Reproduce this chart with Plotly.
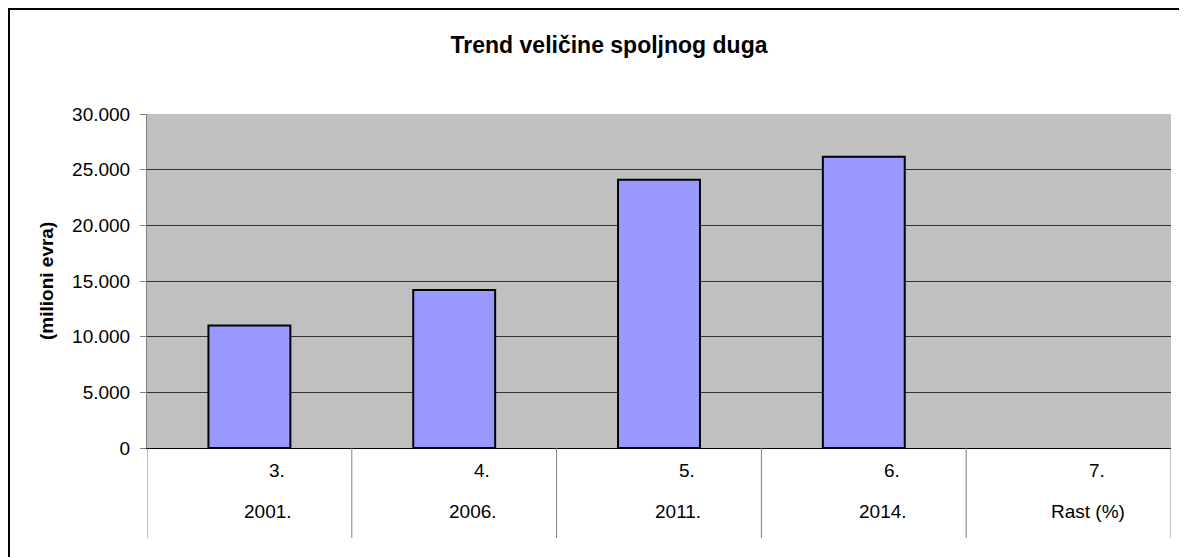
"""External debt trend bar chart (Excel-style)."""

import plotly.graph_objects as go

# data
col_numbers = ["3.", "4.", "5.", "6.", "7."]
col_labels = ["2001.", "2006.", "2011.", "2014.", "Rast (%)"]
debt_values = [11000, 14200, 24100, 26150, None]

# page is drawn with an 8px body margin, so the figure is 8px smaller
W, H = 1179, 549
PLOT_L, PLOT_R, PLOT_T, PLOT_B = 147, 1171, 114, 448  # window pixels
OFF = 8


def px(xw):
    return (xw - PLOT_L) / (PLOT_R - PLOT_L)


def py(yw):
    return (PLOT_B - yw) / (PLOT_B - PLOT_T)


FONT = "Liberation Sans, Arial, sans-serif"

fig = go.Figure()
fig.add_trace(go.Bar(
    x=list(range(len(col_labels))),
    y=debt_values,
    marker=dict(color="#9999FF", line=dict(color="#000000", width=2)),
    hoverinfo="y",
))

shapes = []
# category separators under the axis
for i in range(len(col_labels) + 1):
    shapes.append(dict(type="line", xref="x", yref="paper",
                       x0=i - 0.5, x1=i - 0.5, y0=0, y1=py(538),
                       line=dict(color="#808080", width=1)))
# chart frame: only left and top edges visible
shapes.append(dict(type="line", xref="paper", yref="paper",
                   x0=px(OFF + 1), x1=px(OFF + 1), y0=py(OFF), y1=py(OFF + H),
                   line=dict(color="#000000", width=2)))
shapes.append(dict(type="line", xref="paper", yref="paper",
                   x0=px(OFF), x1=px(OFF + W), y0=py(OFF + 1), y1=py(OFF + 1),
                   line=dict(color="#000000", width=2)))

annotations = []
for i, (num, lab) in enumerate(zip(col_numbers, col_labels)):
    annotations.append(dict(x=i, y=py(483), xref="x", yref="paper", text=num,
                            showarrow=False, xshift=28, font=dict(size=19)))
    annotations.append(dict(x=i, y=py(524), xref="x", yref="paper", text=lab,
                            showarrow=False, xshift=19, font=dict(size=19)))
annotations.append(dict(x=px(46), y=0.5, xref="paper", yref="paper",
                        xanchor="center", yanchor="middle",
                        text="<b>(milioni evra)</b>", textangle=-90,
                        showarrow=False, font=dict(size=19)))

fig.update_layout(
    width=W, height=H,
    margin=dict(l=PLOT_L - OFF, r=W - (PLOT_R - OFF), t=PLOT_T - OFF,
                b=H - (PLOT_B - OFF)),
    title=dict(text="<b>Trend veličine spoljnog duga</b>", x=px(609), xref="paper",
               xanchor="center", y=1 - (45 - OFF) / H, yanchor="middle",
               font=dict(size=23, color="#000000")),
    font=dict(family=FONT, size=19, color="#000000"),
    paper_bgcolor="#FFFFFF",
    plot_bgcolor="#C0C0C0",
    separators=",.",
    showlegend=False,
    bargap=0.6,
    xaxis=dict(range=[-0.5, len(col_labels) - 0.5], showticklabels=False,
               showgrid=False, zeroline=False, showline=True,
               linecolor="#000000", linewidth=1, fixedrange=True),
    yaxis=dict(range=[0, 30000], dtick=5000, tickformat=",d",
               showgrid=True, gridcolor="#333333", gridwidth=1,
               zeroline=False, showline=True, linecolor="#808080", linewidth=1,
               ticks="outside", ticklen=6, tickcolor="#808080",
               ticklabelstandoff=6, fixedrange=True),
    shapes=shapes,
    annotations=annotations,
)

fig.write_html("out.html")
